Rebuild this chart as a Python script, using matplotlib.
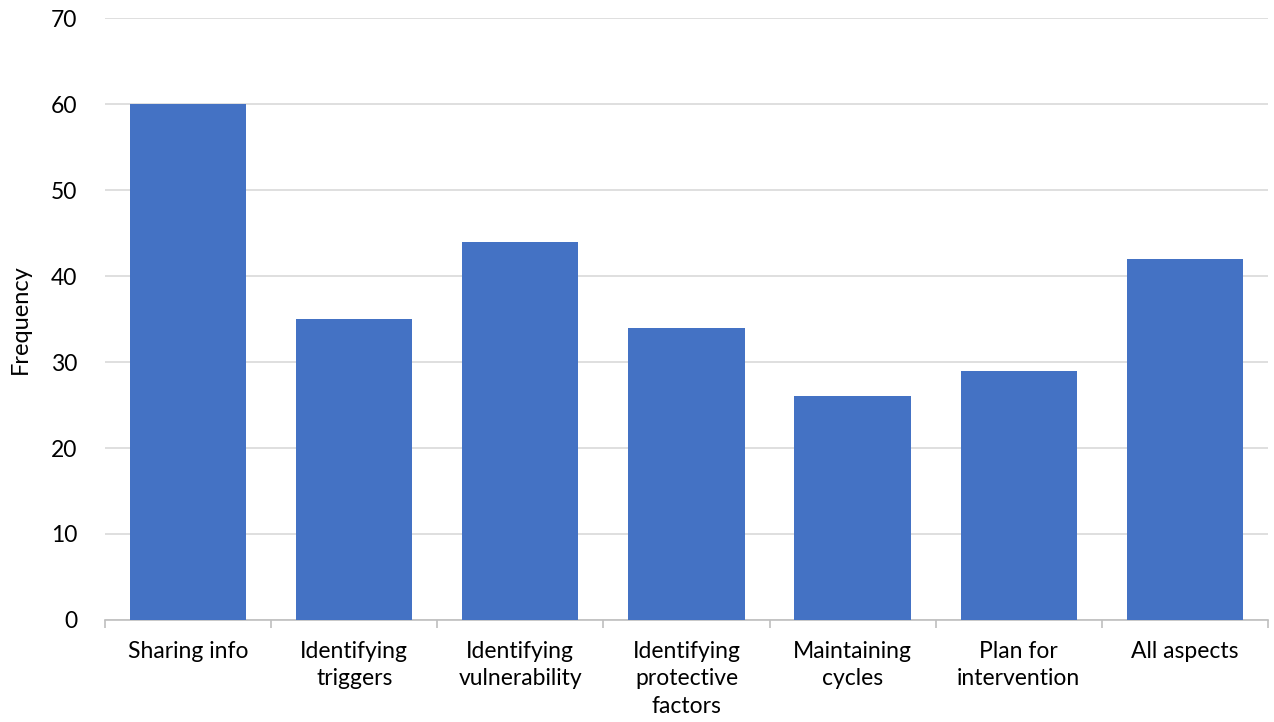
import numpy as np
import matplotlib.pyplot as plt

categories = ['Sharing info', 'Identifying\ntriggers', 'Identifying\nvulnerability',
              'Identifying\nprotective\nfactors', 'Maintaining\ncycles',
              'Plan for\nintervention', 'All aspects']
frequency = [60, 35, 44, 34, 26, 29, 42]

plt.rcParams['font.family'] = ['Lato', 'DejaVu Sans']

fig = plt.figure(figsize=(12.74, 7.22), dpi=100)
ax = fig.add_axes([0.0824, 0.1413, 0.9129, 0.8337])

x = np.arange(len(categories))
ax.bar(x, frequency, width=0.7, color='#4472C4', zorder=3)

ax.set_xlim(-0.5, len(categories) - 0.5)
ax.set_ylim(0, 70)
ax.set_yticks(np.arange(0, 71, 10))
ax.yaxis.grid(True, color='#D9D9D9', linewidth=1.2, zorder=0)

ax.set_xticks(x)
ax.set_xticklabels(categories, fontsize=16.5, linespacing=1.38)
ax.set_xticks(np.arange(-0.5, len(categories), 1), minor=True)
ax.tick_params(axis='x', which='major', length=0, pad=15)
ax.tick_params(axis='x', which='minor', length=6, color='#BFBFBF', width=1.2)
ax.tick_params(axis='y', length=0, labelsize=16.5, pad=20)

for s in ['top', 'right', 'left']:
    ax.spines[s].set_visible(False)
ax.spines['bottom'].set_color('#BFBFBF')
ax.spines['bottom'].set_linewidth(1.2)

ax.set_ylabel('Frequency', fontsize=17, labelpad=14)

fig.savefig('out.png', dpi=100)
